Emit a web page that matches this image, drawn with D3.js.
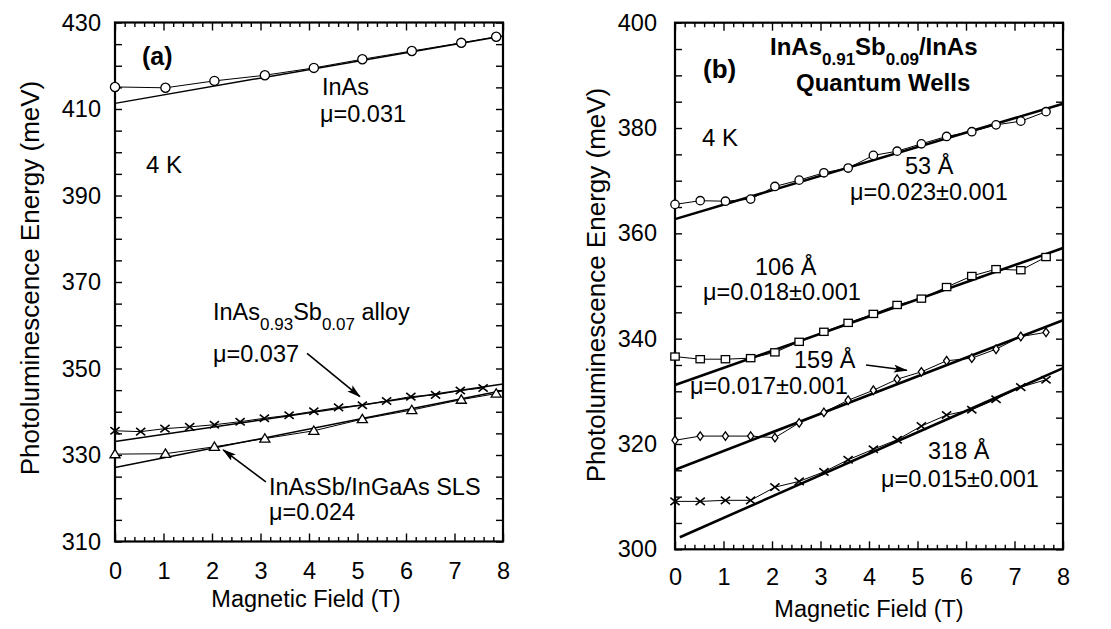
<!DOCTYPE html>
<html>
<head>
<meta charset="utf-8">
<script src="https://cdn.jsdelivr.net/npm/d3@7"></script>
<style>
  html, body { margin: 0; padding: 0; background: #fff; }
  svg { display: block; }
  text { font-family: "Liberation Sans", Arial, Helvetica, sans-serif; fill: #000; }
</style>
</head>
<body>
<div id="container"></div>
<script>
/* (a) valores: campo (T) e energia (meV) */
const fieldInAs = [0, 1.04, 2.05, 3.09, 4.10, 5.10, 6.12, 7.14, 7.86]
const energyInAs = [415.1, 414.9, 416.5, 417.8, 419.5, 421.5, 423.4, 425.3, 426.7]
const fieldAlloy = [0, 0.53, 1.03, 1.54, 2.05, 2.58, 3.08, 3.59, 4.10, 4.61, 5.10, 5.60, 6.10, 6.61, 7.12, 7.59]
const energyAlloy = [335.6, 335.4, 336.1, 336.5, 337.0, 337.7, 338.5, 339.2, 340.1, 341.0, 341.5, 342.5, 343.5, 343.9, 344.9, 345.5]
const fieldSLS = [0, 1.04, 2.05, 3.09, 4.10, 5.10, 6.12, 7.14, 7.86]
const energySLS = [330.2, 330.3, 331.9, 333.8, 335.6, 338.3, 340.4, 342.8, 344.2]

/* retas de ajuste (a): extremos em B e E */
const fitFieldA = [0, 8]
const fitInAs = [411.3, 426.9]
const fitAlloy = [333.1, 346.4]
const fitSLS = [327.1, 344.9]

/* (b) poços quânticos */
const fieldQW = [0, 0.52, 1.04, 1.56, 2.06, 2.56, 3.07, 3.57, 4.09, 4.58, 5.08, 5.60, 6.12, 6.62, 7.13, 7.65]
const qw53 = [365.5, 366.2, 366.1, 366.5, 368.9, 370.1, 371.5, 372.4, 374.8, 375.6, 377.0, 378.4, 379.3, 380.6, 381.3, 383.1]
const qw106 = [336.6, 336.1, 336.1, 336.3, 337.4, 339.4, 341.3, 343.0, 344.7, 346.4, 347.6, 349.8, 351.9, 353.2, 353.0, 355.5]
const qw159 = [320.7, 321.5, 321.5, 321.5, 321.2, 324.0, 326.0, 328.3, 330.2, 332.3, 333.7, 335.8, 336.3, 338.0, 340.4, 341.2]
const qw318 = [309.1, 309.1, 309.3, 309.3, 311.8, 312.9, 314.7, 317.0, 319.0, 320.8, 323.4, 325.5, 326.5, 328.5, 330.8, 332.2]

const fitFieldB = [0, 8]
const fitField318 = [0.1, 8]
const fit53 = [362.7, 384.6]
const fit106 = [331.2, 357.2]
const fit159 = [315.1, 343.5]
const fit318 = [302.3, 334.4]

/* ticks */
const xMajor = [0, 1, 2, 3, 4, 5, 6, 7, 8]
const yLabelsA = [310, 330, 350, 370, 390, 410, 430]
const yLabelsB = [300, 320, 340, 360, 380, 400]

/* setas: [B0, E0, B1, E1] */
const arrowAlloy = [3.96, 353.5, 5.05, 343.5]
const arrowSLS = [3.11, 323.8, 2.23, 331.2]
const arrow159 = [3.94, 335.0, 4.78, 334.0]

const W = 1111, H = 629
const FONT = 23.5

const svg = d3.select("#container").append("svg")
  .attr("width", W).attr("height", H)
  .attr("viewBox", [0, 0, W, H])

svg.append("defs").append("marker")
  .attr("id", "arrow")
  .attr("viewBox", "0 0 14 8")
  .attr("refX", 13).attr("refY", 4)
  .attr("markerWidth", 14).attr("markerHeight", 8)
  .attr("markerUnits", "userSpaceOnUse")
  .attr("orient", "auto")
  .append("path").attr("d", "M0,0 L14,4 L0,8 L3,4 Z").attr("fill", "#000")

const zip = (xs, ys) => xs.map((x, i) => [x, ys[i]])

/* desenha moldura + ticks para um painel */
const frame = (g, x, y, yMin, yMax, opts) => {
  const [x0, x1] = x.range()
  const [y1, y0] = y.range()
  const minorX = d3.range(0, 8.001, 0.2).filter(v => Math.abs(v - Math.round(v)) > 1e-6)
  const minorY = d3.range(yMin, yMax + 0.001, 5)

  g.append("g").attr("transform", `translate(0,${y1})`)
    .call(d3.axisBottom(x).tickValues(minorX).tickSize(-4.5).tickFormat(""))
  g.append("g").attr("transform", `translate(0,${y1})`)
    .call(d3.axisBottom(x).tickValues(xMajor).tickSize(-8).tickPadding(opts.xPad).tickFormat(d3.format("d")))

  g.append("g").attr("transform", `translate(0,${y0})`)
    .call(d3.axisTop(x).tickValues(minorX).tickSize(-4.5).tickFormat(""))
  g.append("g").attr("transform", `translate(0,${y0})`)
    .call(d3.axisTop(x).tickValues(xMajor).tickSize(-8).tickFormat(""))

  g.append("g").attr("transform", `translate(${x0},0)`)
    .call(d3.axisLeft(y).tickValues(minorY).tickSize(-7).tickFormat(""))
  g.append("g").attr("transform", `translate(${x0},0)`)
    .call(d3.axisLeft(y).tickValues(opts.yLabels).tickSize(0).tickPadding(opts.yPad).tickFormat(d3.format("d")))
  g.append("g").attr("transform", `translate(${x1},0)`)
    .call(d3.axisRight(y).tickValues(minorY).tickSize(-7).tickFormat(""))

  g.selectAll(".domain").remove()
  g.selectAll(".tick line").attr("stroke", "#000").attr("stroke-width", 1.4)
  g.selectAll(".tick text")
    .style("font-family", '"Liberation Sans", Arial, sans-serif')
    .style("font-size", `${FONT}px`)
    .attr("fill", "#000")

  g.append("rect")
    .attr("x", x0).attr("y", y0)
    .attr("width", x1 - x0).attr("height", y1 - y0)
    .attr("fill", "none").attr("stroke", "#000").attr("stroke-width", 2.2)
}

const line = (x, y) => d3.line().x(d => x(d[0])).y(d => y(d[1]))

const drawSeries = (g, x, y, pts, fitXs, fitYs, fitW) => {
  g.append("path").datum(pts)
    .attr("d", line(x, y)).attr("fill", "none")
    .attr("stroke", "#000").attr("stroke-width", 1)
  g.append("path").datum(zip(fitXs, fitYs))
    .attr("d", line(x, y)).attr("fill", "none")
    .attr("stroke", "#000").attr("stroke-width", fitW)
}

const symbols = {
  circle: (s, r) => s.append("circle").attr("r", r),
  square: (s, r) => s.append("rect").attr("x", -r).attr("y", -r * 0.85).attr("width", 2 * r).attr("height", 1.7 * r),
  diamond: (s, r) => s.append("path").attr("d", `M0,${-r * 1.2} L${r * 0.85},0 L0,${r * 1.2} L${-r * 0.85},0 Z`),
  triangle: (s, r) => s.append("path").attr("d", `M0,${-r} L${r * 1.05},${r * 0.75} L${-r * 1.05},${r * 0.75} Z`),
  cross: (s, r) => s.append("path").attr("d", `M${-r},${-r * 0.8} L${r},${r * 0.8} M${-r},${r * 0.8} L${r},${-r * 0.8}`)
}

const drawMarkers = (g, x, y, pts, kind, r) => {
  const m = g.append("g").selectAll("g").data(pts).join("g")
    .attr("transform", d => `translate(${x(d[0])},${y(d[1])})`)
  symbols[kind](m, r)
  m.selectAll("*").attr("fill", kind === "cross" ? "none" : "#fff")
    .attr("stroke", "#000").attr("stroke-width", kind === "cross" ? 1.6 : 1.3)
}

const drawArrow = (g, x, y, a) => {
  g.append("line")
    .attr("x1", x(a[0])).attr("y1", y(a[1]))
    .attr("x2", x(a[2])).attr("y2", y(a[3]))
    .attr("stroke", "#000").attr("stroke-width", 1.6)
    .attr("marker-end", "url(#arrow)")
}

const label = (g, px, py, txt, size, bold) => g.append("text")
  .attr("x", px).attr("y", py)
  .style("font-size", `${size || FONT}px`)
  .style("font-weight", bold ? "bold" : null)
  .text(txt)

/* texto com subíndices: partes [texto, sub?] */
const labelSub = (g, px, py, parts, size, subSize, bold) => {
  const t = g.append("text").attr("x", px).attr("y", py)
    .style("font-size", `${size}px`).style("font-weight", bold ? "bold" : null)
  let isSub = false
  parts.forEach(([s, sub]) => {
    const dy = sub && !isSub ? 0.42 * size : (!sub && isSub ? -0.42 * size : 0)
    t.append("tspan").attr("dy", dy).style("font-size", `${sub ? subSize : size}px`).text(s)
    isSub = sub
  })
}

// ---------- painel (a) ----------
const xa = d3.scaleLinear([0, 8], [115, 503])
const ya = d3.scaleLinear([310, 430], [541.5, 22.5])
const ga = svg.append("g")
frame(ga, xa, ya, 310, 430, { yLabels: yLabelsA, xPad: 21, yPad: 14 })

drawSeries(ga, xa, ya, zip(fieldInAs, energyInAs), fitFieldA, fitInAs, 1.5)
drawSeries(ga, xa, ya, zip(fieldAlloy, energyAlloy), fitFieldA, fitAlloy, 1.5)
drawSeries(ga, xa, ya, zip(fieldSLS, energySLS), fitFieldA, fitSLS, 1.5)
drawMarkers(ga, xa, ya, zip(fieldInAs, energyInAs), "circle", 4.6)
drawMarkers(ga, xa, ya, zip(fieldAlloy, energyAlloy), "cross", 4.6)
drawMarkers(ga, xa, ya, zip(fieldSLS, energySLS), "triangle", 4.8)
drawArrow(ga, xa, ya, arrowAlloy)
drawArrow(ga, xa, ya, arrowSLS)

label(ga, 142, 65, "(a)", 25, true)
label(ga, 322, 95, "InAs")
label(ga, 320, 122, "μ=0.031")
label(ga, 146, 173, "4 K", 24)
labelSub(ga, 213, 320, [["InAs"], ["0.93", true], ["Sb"], ["0.07", true], [" alloy"]], FONT, 17)
label(ga, 213, 362, "μ=0.037")
label(ga, 269, 495, "InAsSb/InGaAs SLS")
label(ga, 269, 520, "μ=0.024")

ga.append("text").attr("x", 306).attr("y", 607).attr("text-anchor", "middle")
  .style("font-size", `${FONT}px`).text("Magnetic Field (T)")
ga.append("text").attr("transform", "translate(39,278) rotate(-90)").attr("text-anchor", "middle")
  .style("font-size", "26px").text("Photoluminescence Energy (meV)")

// ---------- painel (b) ----------
const xb = d3.scaleLinear([0, 8], [675, 1063])
const yb = d3.scaleLinear([300, 400], [549.3, 22.7])
const gb = svg.append("g")
frame(gb, xb, yb, 300, 400, { yLabels: yLabelsB, xPad: 19, yPad: 18 })

drawSeries(gb, xb, yb, zip(fieldQW, qw53), fitFieldB, fit53, 2.6)
drawSeries(gb, xb, yb, zip(fieldQW, qw106), fitFieldB, fit106, 2.6)
drawSeries(gb, xb, yb, zip(fieldQW, qw159), fitFieldB, fit159, 2.6)
drawSeries(gb, xb, yb, zip(fieldQW, qw318), fitField318, fit318, 2.6)
drawMarkers(gb, xb, yb, zip(fieldQW, qw53), "circle", 4.2)
drawMarkers(gb, xb, yb, zip(fieldQW, qw106), "square", 4.2)
drawMarkers(gb, xb, yb, zip(fieldQW, qw159), "diamond", 3.6)
drawMarkers(gb, xb, yb, zip(fieldQW, qw318), "cross", 4.6)
drawArrow(gb, xb, yb, arrow159)

label(gb, 703, 78, "(b)", 26, true)
labelSub(gb, 770, 55, [["InAs"], ["0.91", true], ["Sb"], ["0.09", true], ["/InAs"]], 24, 17, true)
label(gb, 796, 91, "Quantum Wells", 24, true)
label(gb, 702, 146, "4 K", 24)
label(gb, 905, 174, "53 Å")
label(gb, 850, 200, "μ=0.023±0.001")
label(gb, 755, 275, "106 Å")
label(gb, 703, 300, "μ=0.018±0.001")
label(gb, 794, 368, "159 Å")
label(gb, 690, 394, "μ=0.017±0.001")
label(gb, 928, 459, "318 Å")
label(gb, 881, 487, "μ=0.015±0.001")

gb.append("text").attr("x", 869).attr("y", 617).attr("text-anchor", "middle")
  .style("font-size", `${FONT}px`).text("Magnetic Field (T)")
gb.append("text").attr("transform", "translate(605,285) rotate(-90)").attr("text-anchor", "middle")
  .style("font-size", "26px").text("Photoluminescence Energy (meV)")
</script>
</body>
</html>
